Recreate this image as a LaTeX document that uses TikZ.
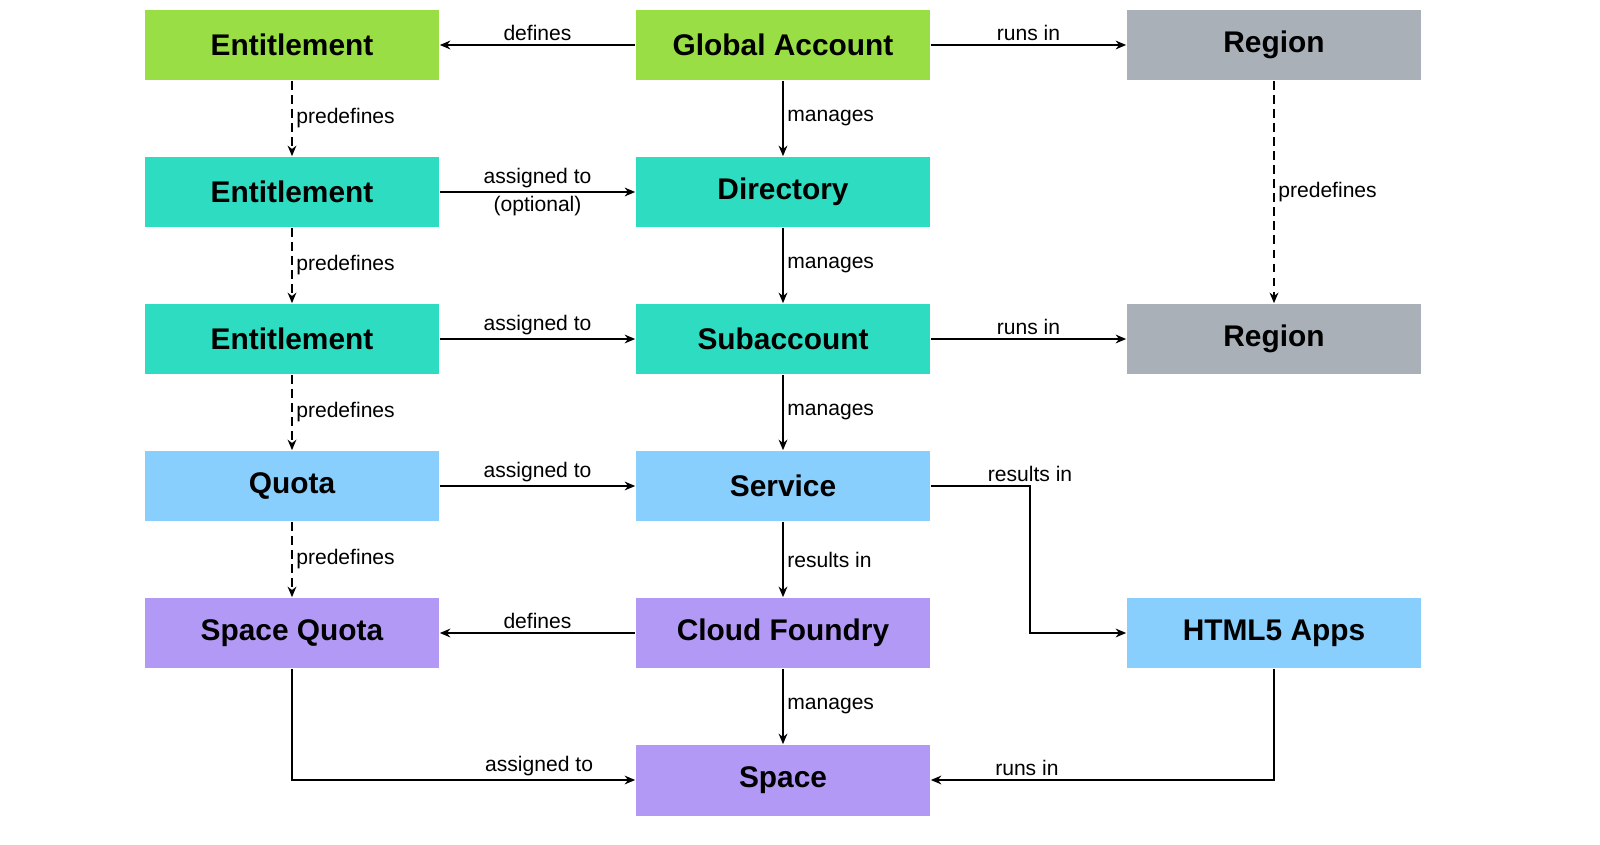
\documentclass[tikz,border=0pt]{standalone}
\usepackage{fontspec}
\setmainfont{Liberation Sans}
\usetikzlibrary{arrows.meta}
\definecolor{gacol}{HTML}{99DE44}
\definecolor{tealcol}{HTML}{2EDDC1}
\definecolor{greycol}{HTML}{A9B0B8}
\definecolor{bluecol}{HTML}{88CFFD}
\definecolor{purplecol}{HTML}{B399F6}
\tikzstyle{box}=[minimum width=5.9cm,minimum height=1.42cm,inner sep=0pt,font=\fontsize{17}{20}\selectfont\bfseries]
\tikzstyle{link}=[draw,line width=0.9pt,-{Stealth[length=6pt,width=5pt]}]
\tikzstyle{pre link}=[link,dash pattern=on 5pt off 3pt]
\tikzstyle{lbl}=[font=\fontsize{12}{14}\selectfont,inner sep=2pt]

\begin{document}
\begin{tikzpicture}[x=0.02cm,y=-0.02cm]
    \useasboundingbox (0,0) rectangle (1600,845);
    % Nodes
    \foreach \pos/\name/\col/\txt in {{(292,45)/ent1/gacol/Entitlement}, {(783,45)/ga/gacol/Global Account}, {(1274,45)/reg1/greycol/Region},
                                      {(292,192)/ent2/tealcol/Entitlement}, {(783,192)/dir/tealcol/Directory},
                                      {(292,339)/ent3/tealcol/Entitlement}, {(783,339)/sub/tealcol/Subaccount}, {(1274,339)/reg2/greycol/Region},
                                      {(292,486)/quota/bluecol/Quota}, {(783,486)/svc/bluecol/Service}, {(1274,633)/html/bluecol/HTML5 Apps},
                                      {(292,633)/sq/purplecol/Space Quota}, {(783,633)/cf/purplecol/Cloud Foundry}, {(783,780)/space/purplecol/Space}}
        \node[box,fill=\col] (\name) at \pos {\txt};

    % Corners
    \coordinate (bend) at (1030,486);

    % Straight links
    \path[link] (ga) -- node[lbl,above] {defines} (ent1);
    \path[link] (ga) -- node[lbl,above] {runs in} (reg1);
    \path[link] (ent2) -- node[lbl,above] {assigned to} node[lbl,below] {(optional)} (dir);
    \path[link] (ent3) -- node[lbl,above] {assigned to} (sub);
    \path[link] (sub) -- node[lbl,above] {runs in} (reg2);
    \path[link] (quota) -- node[lbl,above] {assigned to} (svc);
    \path[link] (cf) -- node[lbl,above] {defines} (sq);
    \foreach \source/\dest/\txt in {ga/dir/manages, dir/sub/manages, sub/svc/manages, svc/cf/results in, cf/space/manages}
        \path[link] (\source) -- node[lbl,right] {\txt} (\dest);

    % Dashed links
    \foreach \source/\dest in {ent1/ent2, ent2/ent3, ent3/quota, quota/sq, reg1/reg2}
        \path[pre link] (\source) -- node[lbl,right] {predefines} (\dest);

    % Elbow links
    \path[link] (svc.east) -- node[lbl,above,pos=1] {results in} (bend) |- (html.west);
    \path[link] (sq.south) |- node[lbl,above,pos=0.86] {assigned to} (space.west);
    \path[link] (html.south) |- node[lbl,above,pos=0.86] {runs in} (space.east);
\end{tikzpicture}
\end{document}
